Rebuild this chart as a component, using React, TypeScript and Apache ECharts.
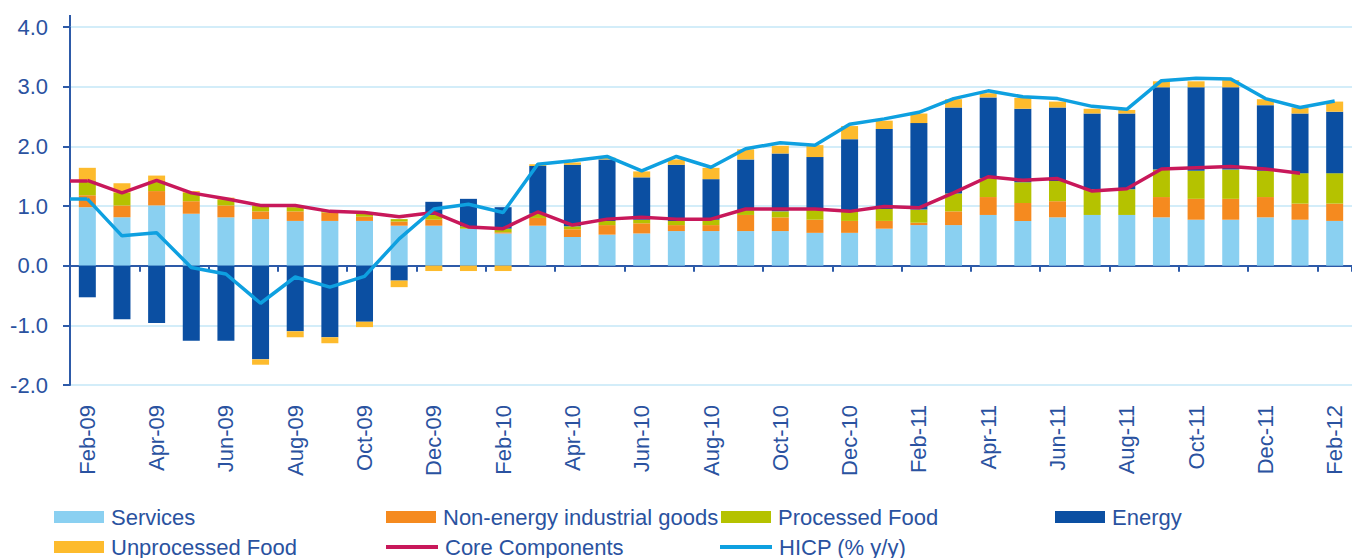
import React, { useEffect, useRef } from "react";
import * as echarts from "echarts";

const months = [
  "Feb-09", "Mar-09", "Apr-09", "May-09", "Jun-09", "Jul-09", "Aug-09", "Sep-09", "Oct-09", "Nov-09", "Dec-09",
  "Jan-10", "Feb-10", "Mar-10", "Apr-10", "May-10", "Jun-10", "Jul-10", "Aug-10", "Sep-10", "Oct-10", "Nov-10", "Dec-10",
  "Jan-11", "Feb-11", "Mar-11", "Apr-11", "May-11", "Jun-11", "Jul-11", "Aug-11", "Sep-11", "Oct-11", "Nov-11", "Dec-11",
  "Jan-12", "Feb-12",
];

const services = [
  0.98, 0.81, 1.01, 0.87, 0.81, 0.78, 0.75, 0.75, 0.75, 0.67, 0.67,
  0.62, 0.54, 0.67, 0.48, 0.52, 0.54, 0.58, 0.58, 0.58, 0.58, 0.55, 0.55,
  0.62, 0.68, 0.68, 0.85, 0.75, 0.81, 0.85, 0.85, 0.81, 0.77, 0.77, 0.81,
  0.77, 0.75,
];
const nonEnergy = [
  0.20, 0.20, 0.24, 0.21, 0.20, 0.13, 0.16, 0.14, 0.07, 0.07, 0.10,
  0.00, 0.02, 0.13, 0.13, 0.16, 0.17, 0.10, 0.10, 0.27, 0.23, 0.22, 0.20,
  0.13, 0.04, 0.23, 0.30, 0.30, 0.27, 0.00, 0.00, 0.34, 0.35, 0.35, 0.34,
  0.27, 0.29,
];
const processedFood = [
  0.25, 0.21, 0.17, 0.14, 0.09, 0.10, 0.07, 0.03, 0.05, 0.04, 0.08,
  0.04, 0.06, 0.07, 0.05, 0.07, 0.06, 0.07, 0.09, 0.08, 0.10, 0.17, 0.15,
  0.20, 0.22, 0.30, 0.32, 0.35, 0.34, 0.43, 0.43, 0.46, 0.47, 0.49, 0.44,
  0.51, 0.51,
];
const energy = [
  -0.53, -0.90, -0.96, -1.26, -1.26, -1.57, -1.10, -1.20, -0.94, -0.25, 0.22,
  0.46, 0.36, 0.80, 1.03, 1.03, 0.71, 0.94, 0.68, 0.85, 0.97, 0.88, 1.22,
  1.34, 1.45, 1.44, 1.35, 1.23, 1.23, 1.27, 1.27, 1.38, 1.40, 1.38, 1.10,
  1.00, 1.03,
];
const unprocessedFood = [
  0.21, 0.16, 0.09, 0.03, 0.04, -0.09, -0.10, -0.10, -0.09, -0.11, -0.09,
  -0.09, -0.09, 0.03, 0.04, 0.03, 0.10, 0.09, 0.19, 0.17, 0.13, 0.20, 0.22,
  0.14, 0.16, 0.14, 0.07, 0.18, 0.10, 0.08, 0.06, 0.10, 0.10, 0.12, 0.10,
  0.10, 0.17,
];
const coreComponents = [
  1.43, 1.22, 1.43, 1.22, 1.12, 1.01, 1.01, 0.91, 0.89, 0.82, 0.89,
  0.65, 0.62, 0.90, 0.68, 0.78, 0.81, 0.78, 0.78, 0.95, 0.95, 0.95, 0.91,
  0.99, 0.97, 1.22, 1.49, 1.43, 1.46, 1.25, 1.29, 1.62, 1.64, 1.66, 1.62,
  1.55, null,
];
const hicp = [
  1.12, 0.50, 0.55, -0.03, -0.14, -0.63, -0.19, -0.36, -0.18, 0.45, 0.95,
  1.03, 0.89, 1.70, 1.76, 1.83, 1.59, 1.83, 1.65, 1.96, 2.06, 2.02, 2.37,
  2.46, 2.57, 2.80, 2.93, 2.83, 2.80, 2.67, 2.62, 3.10, 3.14, 3.13, 2.80,
  2.65, 2.76,
];

const FONT = "'Liberation Sans', Arial, sans-serif";
const TEXT = "#2A52A0";
const AXIS = "#2D5AA8";

const C_SERV = "#8AD0F1";
const C_NEIG = "#F58A1F";
const C_PROC = "#B5C200";
const C_ENER = "#0B4FA2";
const C_UNPR = "#FDBB2D";
const C_CORE = "#C8185A";
const C_HICP = "#0EA0E0";

const GRID_LEFT = 70;

export default function App() {
  const ref = useRef<HTMLDivElement>(null);
  useEffect(() => {
    if (!ref.current) return;
    const chart = echarts.init(ref.current, undefined, { renderer: "svg" });
    const barSeries = (name: string, data: number[], color: string) => ({
      name,
      type: "bar",
      stack: "total",
      barWidth: 17,
      data,
      itemStyle: { color },
    });
    const legendItem = (name: string, left: number, top: number, isLine: boolean) => ({
      data: [name],
      left,
      top,
      padding: 0,
      icon: "rect",
      itemWidth: isLine ? 52 : 50,
      itemHeight: isLine ? 4 : 12,
      textStyle: { color: TEXT, fontSize: 22, fontFamily: FONT, padding: [0, 0, 0, 2] },
    });
    const leadIn = (value: number, color: string) => ({
      silent: true,
      symbol: ["none", "none"],
      label: { show: false },
      lineStyle: { color, width: 3.5, type: "solid" },
      data: [[{ x: GRID_LEFT, yAxis: value }, { xAxis: 0, yAxis: value }]],
    });
    chart.setOption({
      animation: false,
      textStyle: { fontFamily: FONT },
      grid: { left: GRID_LEFT, top: 27, width: 1288, height: 358, containLabel: false },
      legend: [
        legendItem("Services", 54, 506, false),
        legendItem("Non-energy industrial goods", 386, 506, false),
        legendItem("Processed Food", 721, 506, false),
        legendItem("Energy", 1055, 506, false),
        legendItem("Unprocessed Food", 54, 536, false),
        legendItem("Core Components", 386, 536, true),
        legendItem("HICP (% y/y)", 720, 536, true),
      ],
      xAxis: [
        {
          type: "category",
          data: months,
          position: "bottom",
          axisLine: { show: false, onZero: false },
          axisTick: { show: false },
          axisLabel: {
            interval: 1,
            rotate: 90,
            fontSize: 22,
            color: TEXT,
            fontFamily: FONT,
            margin: 20,
          },
          splitLine: { show: false },
        },
        {
          type: "category",
          data: months,
          position: "bottom",
          axisLine: { show: true, onZero: true, lineStyle: { color: AXIS, width: 2 } },
          axisTick: { show: true, interval: 1, length: 6, lineStyle: { color: AXIS, width: 2 } },
          axisLabel: { show: false },
          splitLine: { show: false },
        },
      ],
      yAxis: {
        type: "value",
        min: -2,
        max: 4,
        interval: 1,
        axisLine: { show: true, lineStyle: { color: AXIS, width: 2 } },
        axisTick: { show: true, length: 7, lineStyle: { color: AXIS, width: 2 } },
        axisLabel: {
          fontSize: 22,
          color: TEXT,
          fontFamily: FONT,
          margin: 22,
          formatter: (v: number) => v.toFixed(1),
        },
        splitLine: { show: true, lineStyle: { color: "#D3EDF9", width: 2 } },
      },
      graphic: [
        {
          type: "line",
          shape: { x1: GRID_LEFT, y1: 15, x2: GRID_LEFT, y2: 28 },
          style: { stroke: AXIS, lineWidth: 2 },
        },
      ],
      series: [
        barSeries("Services", services, C_SERV),
        barSeries("Non-energy industrial goods", nonEnergy, C_NEIG),
        barSeries("Processed Food", processedFood, C_PROC),
        barSeries("Energy", energy, C_ENER),
        barSeries("Unprocessed Food", unprocessedFood, C_UNPR),
        {
          name: "Core Components",
          type: "line",
          data: coreComponents,
          symbol: "none",
          lineStyle: { color: C_CORE, width: 3.5 },
          itemStyle: { color: C_CORE },
          markLine: leadIn(coreComponents[0] as number, C_CORE),
          z: 3,
        },
        {
          name: "HICP (% y/y)",
          type: "line",
          data: hicp,
          symbol: "none",
          lineStyle: { color: C_HICP, width: 3.5 },
          itemStyle: { color: C_HICP },
          markLine: leadIn(hicp[0], C_HICP),
          z: 4,
        },
      ],
    });
    return () => chart.dispose();
  }, []);
  return (
    <div
      ref={ref}
      style={{ position: "fixed", left: 0, top: 0, width: 1352, height: 558, background: "#fff" }}
    />
  );
}
